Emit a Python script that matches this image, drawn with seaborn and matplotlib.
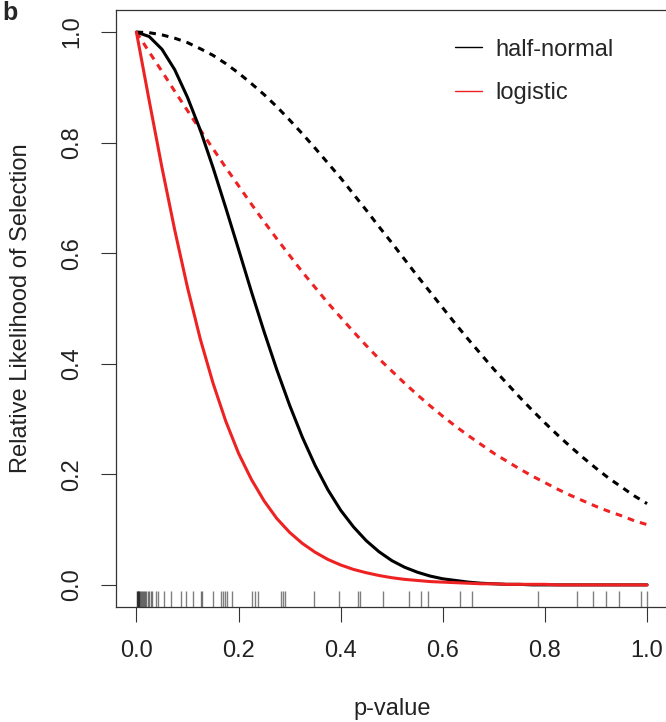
import matplotlib
matplotlib.use('Agg')
import matplotlib.pyplot as plt
from matplotlib.lines import Line2D
from matplotlib.ticker import FormatStrFormatter
import seaborn as sns

p_grid = [0.000, 0.025, 0.050, 0.075, 0.100, 0.125, 0.150, 0.175, 0.200, 0.225,
          0.250, 0.275, 0.300, 0.325, 0.350, 0.375, 0.400, 0.425, 0.450, 0.475,
          0.500, 0.525, 0.550, 0.575, 0.600, 0.625, 0.650, 0.675, 0.700, 0.725,
          0.750, 0.775, 0.800, 0.825, 0.850, 0.875, 0.900, 0.925, 0.950, 0.975,
          1.000]

# half-normal, strong selection (solid black)
halfnorm_strong = [1.000, 0.992, 0.969, 0.932, 0.882, 0.823, 0.755, 0.682, 0.607, 0.531,
                   0.458, 0.389, 0.325, 0.267, 0.216, 0.172, 0.135, 0.105, 0.080, 0.060,
                   0.044, 0.032, 0.023, 0.016, 0.011, 0.008, 0.005, 0.003, 0.002, 0.001,
                   0.001, 0.000, 0.000, 0.000, 0.000, 0.000, 0.000, 0.000, 0.000, 0.000,
                   0.000]
# half-normal, weak selection (dotted black)
halfnorm_weak = [1.000, 0.999, 0.995, 0.989, 0.981, 0.970, 0.958, 0.943, 0.926, 0.907,
                 0.887, 0.865, 0.841, 0.816, 0.790, 0.763, 0.736, 0.707, 0.678, 0.648,
                 0.619, 0.589, 0.559, 0.530, 0.501, 0.472, 0.444, 0.417, 0.390, 0.365,
                 0.340, 0.316, 0.293, 0.271, 0.250, 0.230, 0.211, 0.193, 0.177, 0.161,
                 0.147]
# logistic, strong selection (solid red)
logistic_strong = [1.000, 0.876, 0.755, 0.642, 0.538, 0.445, 0.365, 0.296, 0.238, 0.191,
                   0.152, 0.120, 0.095, 0.075, 0.059, 0.046, 0.036, 0.028, 0.022, 0.017,
                   0.013, 0.010, 0.008, 0.006, 0.005, 0.004, 0.003, 0.002, 0.002, 0.001,
                   0.001, 0.001, 0.001, 0.000, 0.000, 0.000, 0.000, 0.000, 0.000, 0.000,
                   0.000]
# logistic, weak selection (dotted red)
logistic_weak = [1.000, 0.964, 0.929, 0.893, 0.858, 0.823, 0.789, 0.755, 0.722, 0.689,
                 0.657, 0.626, 0.596, 0.566, 0.538, 0.510, 0.484, 0.458, 0.433, 0.409,
                 0.387, 0.365, 0.344, 0.324, 0.305, 0.287, 0.270, 0.254, 0.238, 0.224,
                 0.210, 0.197, 0.185, 0.173, 0.162, 0.152, 0.142, 0.133, 0.125, 0.116,
                 0.109]

# observed p-values shown as a rug
observed_p = [0.001, 0.002, 0.003, 0.004, 0.005, 0.006, 0.007, 0.008, 0.010, 0.012,
              0.014, 0.016, 0.019, 0.022, 0.025, 0.028, 0.031, 0.038, 0.043, 0.054,
              0.067, 0.087, 0.098, 0.111, 0.126, 0.129, 0.149, 0.165, 0.169, 0.173,
              0.178, 0.188, 0.227, 0.232, 0.238, 0.284, 0.287, 0.291, 0.347, 0.396,
              0.433, 0.438, 0.482, 0.534, 0.557, 0.571, 0.633, 0.657, 0.786, 0.863,
              0.894, 0.920, 0.946, 0.989, 0.999]

tick_vals = [0.0, 0.2, 0.4, 0.6, 0.8, 1.0]
legend_labels = ['half-normal', 'logistic']

sns.set_theme(style='white')
plt.rcParams['font.family'] = ['Liberation Sans', 'DejaVu Sans']

RED = '#EE2222'
FS = 17
dotted = (0, (2.2, 2.0))

fig = plt.figure(figsize=(6.66, 7.22), dpi=100)
ax = fig.add_axes([116 / 666, 1 - 607 / 722, 551.5 / 666, 597 / 722])

sns.lineplot(x=p_grid, y=halfnorm_weak, ax=ax, color='black', lw=2.2, linestyle=dotted)
sns.lineplot(x=p_grid, y=logistic_weak, ax=ax, color=RED, lw=2.2, linestyle=dotted)
sns.lineplot(x=p_grid, y=halfnorm_strong, ax=ax, color='black', lw=2.2)
sns.lineplot(x=p_grid, y=logistic_strong, ax=ax, color=RED, lw=2.2)
sns.rugplot(x=observed_p, ax=ax, height=0.027, color='black', alpha=0.5, lw=1)

ax.set_xlim(-0.04, 1.04)
ax.set_ylim(-0.04, 1.04)
ax.set_xticks(tick_vals)
ax.set_yticks(tick_vals)
ax.xaxis.set_major_formatter(FormatStrFormatter('%.1f'))
ax.yaxis.set_major_formatter(FormatStrFormatter('%.1f'))
ax.tick_params(axis='both', direction='out', length=10.5, width=0.8, color='#333333',
               labelsize=FS, pad=13, bottom=True, left=True, labelcolor='#222222')
ax.tick_params(axis='y', labelrotation=90)
for lab in ax.get_yticklabels():
    lab.set_va('center')

for sp in ax.spines.values():
    sp.set_color('#333333')
    sp.set_linewidth(0.9)

ax.set_xlabel('p-value', fontsize=FS, color='#222222')
ax.set_ylabel('Relative Likelihood of Selection', fontsize=FS, color='#222222')
ax.xaxis.set_label_coords(0.5, -0.152)
ax.yaxis.set_label_coords(-0.153, 0.5)

handles = [Line2D([], [], color='black', lw=1.0), Line2D([], [], color=RED, lw=1.0)]
ax.legend(handles, legend_labels, loc='upper left', bbox_to_anchor=(0.615, 0.952),
          frameon=False, fontsize=FS, handlelength=1.15, handletextpad=0.55,
          labelspacing=0.92, borderpad=0, borderaxespad=0)

fig.text(0.004, 0.999, 'b', fontsize=18, fontweight='bold', va='top', ha='left')

fig.savefig('out.png', dpi=100)
